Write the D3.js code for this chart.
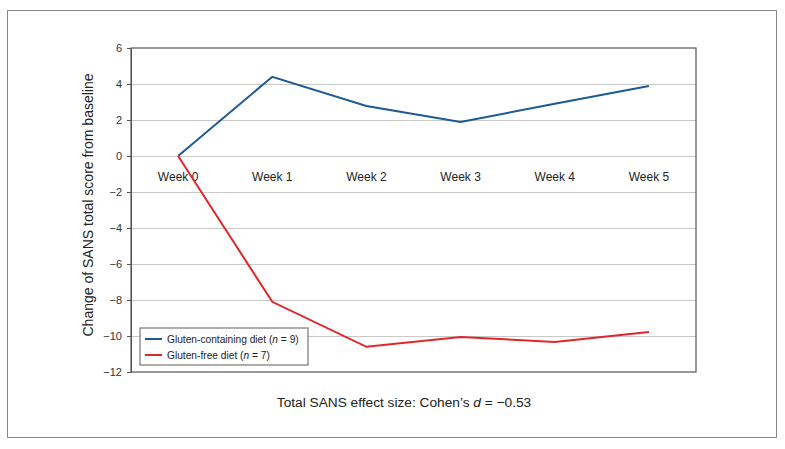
<!DOCTYPE html>
<html><head><meta charset="utf-8">
<script src="https://cdn.jsdelivr.net/npm/d3@7"></script>
<style>body{margin:0;background:#fff;font-family:"Liberation Sans",Arial,sans-serif;}</style>
</head><body><svg id="c" width="785" height="449"></svg>
<script>
const weeks = ["Week 0","Week 1","Week 2","Week 3","Week 4","Week 5"];
const glutenContaining = [0, 4.4, 2.78, 1.89, 2.9, 3.89];
const glutenFree = [0, -8.1, -10.6, -10.05, -10.33, -9.78];
const yTicks = [6,4,2,0,-2,-4,-6,-8,-10,-12];
const seriesNames = ["Gluten-containing diet", "Gluten-free diet"];
const seriesN = [9, 7];
const colors = ["#1c5a96", "#e0262c"];

const svg = d3.select("#c");
svg.append("rect").attr("x",7.5).attr("y",10.5).attr("width",769).attr("height",427)
  .attr("fill","none").attr("stroke","#888").attr("stroke-width",1);

const L=131, R=696, T=48, B=372;
const x = d3.scalePoint().domain(weeks).range([L,R]).padding(0.5);
const y = d3.scaleLinear().domain([-12,6]).range([B,T]);

// gridlines
svg.append("g").selectAll("line").data(yTicks.filter(v=>v!==-12 && v!==6)).join("line")
  .attr("x1",L).attr("x2",R).attr("y1",d=>y(d)+0.5).attr("y2",d=>y(d)+0.5)
  .attr("stroke","#c8c8c8").attr("stroke-width",1.2);

// frame
svg.append("rect").attr("x",L).attr("y",T).attr("width",R-L).attr("height",B-T)
  .attr("fill","none").attr("stroke","#555").attr("stroke-width",1.2);

// y axis
const fmt = d => d<0 ? "\u2212"+Math.abs(d) : String(d);
const yAxis = svg.append("g").attr("transform",`translate(${L},0)`)
  .call(d3.axisLeft(y).tickValues(yTicks).tickSize(4).tickFormat(fmt));
yAxis.select(".domain").attr("stroke","#555");
yAxis.selectAll(".tick line").attr("stroke","#555");
yAxis.selectAll("text").attr("font-size",11).attr("fill","#333").attr("font-family","Liberation Sans, Arial, sans-serif").attr("dx",-2);

// week labels
svg.append("g").selectAll("text").data(weeks).join("text")
  .attr("x",d=>x(d)).attr("y",181).attr("text-anchor","middle")
  .attr("font-size",12).attr("fill","#222").text(d=>d);

// lines
const line = d3.line().x((d,i)=>x(weeks[i])).y(d=>y(d));
[glutenContaining, glutenFree].forEach((s,i)=>{
  svg.append("path").datum(s).attr("d",line).attr("fill","none")
    .attr("stroke",colors[i]).attr("stroke-width",2);
});

// y title
svg.append("text").attr("transform","translate(93,205) rotate(-90)")
  .attr("text-anchor","middle").attr("font-size",14).attr("fill","#222")
  .text("Change of SANS total score from baseline");

// legend
const lg = svg.append("g");
lg.append("rect").attr("x",140).attr("y",328).attr("width",168).attr("height",37)
  .attr("fill","#fff").attr("stroke","#777").attr("stroke-width",1.2);
seriesNames.forEach((n,i)=>{
  const yy = 339 + i*16;
  lg.append("line").attr("x1",145).attr("x2",162).attr("y1",yy).attr("y2",yy)
    .attr("stroke",colors[i]).attr("stroke-width",2);
  const t = lg.append("text").attr("x",167).attr("y",yy+4).attr("font-size",10.2).attr("fill","#222");
  t.append("tspan").text(n+" (");
  t.append("tspan").attr("font-style","italic").text("n");
  t.append("tspan").text(" = "+seriesN[i]+")");
});

// caption
const cap = svg.append("text").attr("x",404).attr("y",407).attr("text-anchor","middle")
  .attr("font-size",13.7).attr("fill","#222");
cap.append("tspan").text("Total SANS effect size: Cohen\u2019s ");
cap.append("tspan").attr("font-style","italic").text("d");
cap.append("tspan").text(" = \u22120.53");
</script></body></html>
